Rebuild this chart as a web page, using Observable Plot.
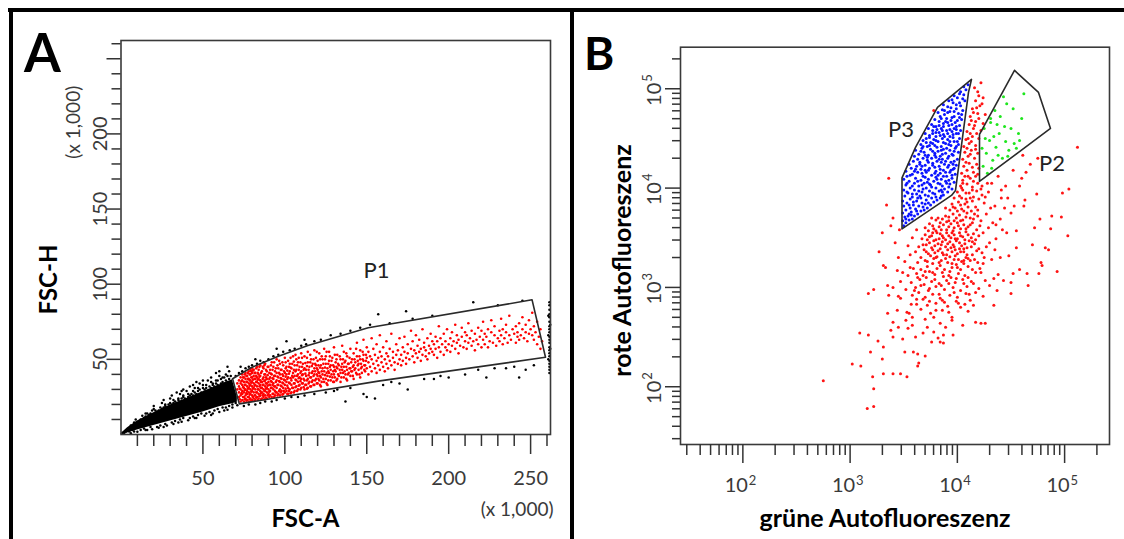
<!DOCTYPE html>
<html>
<head>
<meta charset="utf-8">
<script src="https://cdn.jsdelivr.net/npm/d3@7"></script>
<script src="https://cdn.jsdelivr.net/npm/@observablehq/plot@0.6"></script>
<style>
  html,body{margin:0;padding:0;background:#fff;}
  #fig{position:relative;width:1124px;height:539px;overflow:hidden;background:#fff;font-family:Lato,"Open Sans",sans-serif;}
  .rule{position:absolute;background:#000;}
  .panel{position:absolute;top:0;}
  .letter{position:absolute;font-family:Lato,"Open Sans",sans-serif;font-weight:700;line-height:1;color:#000;}
</style>
</head>
<body>
<div id="fig">
  <div class="panel" id="panelA" style="left:0px;"></div>
  <div class="panel" id="panelB" style="left:572px;"></div>
  <div class="rule" style="left:8px;top:7.5px;width:1116px;height:4px;"></div>
  <div class="rule" style="left:8.5px;top:7.5px;width:4px;height:532px;"></div>
  <div class="rule" style="left:570px;top:7.5px;width:4px;height:532px;"></div>
  <div class="letter" style="left:24px;top:25px;font-size:53px;">A</div>
  <div class="letter" style="left:584px;top:30px;font-size:46px;">B</div>
</div>
<script>
// ================= Panel A data (units: x 1,000) =================
const xMajorTicksA = [50, 100, 150, 200, 250];
const xMinorTicksA = [10,20,30,40,60,70,80,90,110,120,130,140,160,170,180,190,210,220,230,240,260];
const yMajorTicksA = [50, 100, 150, 200, 250];
const yLabelTicksA = [50, 100, 150, 200];
const yMinorTicksA = [10,20,30,40,60,70,80,90,110,120,130,140,160,170,180,190,210,220,230,240,260];
const axisTitleXA = "FSC-A";
const axisTitleYA = "FSC-H";
const unitLabelA = "(x 1,000)";

// gate P1 vertices (FSC-A, FSC-H)
const gateP1 = [[68.1,37.1],[79.3,44.4],[95.7,51.9],[114.1,59.2],[150.9,71.0],[250.9,89.6],[259.1,51.4],[157,35.5],[72.2,20.4]];
const gateLabelsA = [{name: "P1", x: 156, y: 109}];

// solid black core of events (band per FSC-A)
const coreX  = [0, 4, 10, 20, 30, 40, 50, 60, 68, 71];
const coreLo = [0, 1, 3, 6, 9, 12, 15, 18.5, 20.5, 21.5];
const coreHi = [0.5, 4.5, 9, 14.5, 19.5, 24, 28.5, 33, 36.5, 25];

const blackA_pairs = `
6,6 8,8 12,10 14,11 15,12 17,13 18,14 22,15 23,16 25,17 26,18 27,19 28,18 29,20 31,20 32,21 33,22 34,21 35,23 36,22
37,24 38,25 39,24 41,25 42,26 43,27 44,26 45,28 46,27 47,29 48,30 49,28 51,30 52,31 53,29 54,32 55,31 56,33 57,32 58,34
59,33 61,34 62,35 63,34 64,36 65,35 66,37 62,38 58,36 55,35 50,33 45,31 40,29 36,27 30,24 25,21 20,17 15,14 53,36 64,40
60,39 48,34 42,32 38,30 20,19 34,28 46,35 55,38 66,42 58,41
8,2 12,3 14,4 18,5 22,5 24,6 27,7 31,8 33,9 36,10 38,11 42,11 44,12 47,13 49,14 52,14 54,15 57,16 59,17 62,18 64,18 66,19
68,20 70,21 35,8 45,11 55,13 63,16 26,5 16,3
1,1 2,1 3,2 4,3 5,2 6,4 7,3 9,5 11,6 13,7
9,10 13,12.5 16,14 19,16 21,16 24,18 27,20 30,21 32,23 35,24 38,26 41,27 44,29 47,31 50,31 52,33 56,34 59,36 61,37 63,38
65,39 67,39 44,33 37,29 31,26 26,23 50,36
6,0.8 10,1.8 15,3 19,3.5 23,4.5 28,6 32,7 37,8.5 41,9.5 46,11 51,12.5 56,14 60,15 65,16.5 68,18 71,19.5
70,39 72,41 74,42 76,44 78,45 80,46 83,47 85,49 87,48 90,50 93,52 96,53 99,55 103,56 106,57 110,59 113,60 118,62 122,63
128,66 134,67 140,69 146,71 152,73 157,80 164,74 174,82 178,77 190,79 215,88 230,86 245,89 73,45 82,50 95,57 60,42 65,45
101,62 112,63
75,19 78,20 82,20 85,21 88,22 92,22 95,23 100,24 104,25 108,25 112,26 118,27 125,28 132,30 140,31 148,27 150,25 155,24
160,33 170,34 185,37 191,37 200,38 210,40 223,38 235,44 243,38 247,43 252,46 240,45 218,43 195,39 165,35 130,29 137,22
175,30 228,44
261.5,41 261.5,43 261.5,45 261.5,47 261.5,49 261.5,52 261.5,54 261.5,56 261.5,58 261.5,61 261.5,63 261.5,65 261.5,68
261.5,70 261.5,72 261.5,75 261.5,78 261.5,80 261.5,83 261.5,86 261.5,88 260.8,50 260.8,66 260.8,79 262,57 262,73`;

const redA_pairs = `
71,30 71,34 72,25 72,28 72,32 72,36 73,22 73,26 73,30 73,34 73,38 74,23 74,27 74,29 74,33 74,36 74,40 75,22 75,25 75,28
75,31 75,35 75,38 76,24 76,26 76,30 76,33 76,37 76,41 77,23 77,27 77,29 77,32 77,35 77,39 78,22 78,25 78,28 78,31 78,34
78,37 78,42 79,24 79,27 79,30 79,33 79,36 79,40 79,43 80,23 80,26 80,29 80,32 80,35 80,38 80,41 80,44
81,24 81,28 81,31 81,34 81,39 81,43 82,23 82,26 82,30 82,33 82,37 82,41 83,25 83,28 83,32 83,35 83,38 83,45 84,24 84,27
84,30 84,34 84,37 84,40 84,43 85,26 85,29 85,33 85,36 85,39 85,46 86,24 86,28 86,31 86,35 86,42 87,25 87,27 87,30 87,33
87,38 87,44 88,26 88,29 88,32 88,36 88,40 88,47 89,24 89,28 89,31 89,34 89,37 89,42 90,27 90,30 90,35 90,45
91,26 91,29 91,33 91,38 91,43 92,25 92,31 92,35 92,40 92,48 93,27 93,30 93,34 93,37 93,45 94,26 94,29 94,32 94,39 94,42
95,28 95,31 95,36 95,41 95,50 96,27 96,33 96,38 96,44 97,26 97,30 97,35 97,40 97,47 98,29 98,32 98,37 98,43 99,27 99,31
99,34 99,39 99,46 100,28 100,33 100,36 100,41 100,51
101,29 101,35 101,40 101,45 102,27 102,31 102,38 102,49 103,30 103,34 103,42 103,47 104,28 104,33 104,36 104,44 105,31
105,38 105,41 105,52 106,29 106,34 106,39 106,46 107,32 107,36 107,43 107,50 108,30 108,35 108,40 108,48 109,33 109,38
109,45 110,31 110,37 110,42 110,54
111,34 111,40 111,47 112,30 112,36 112,44 112,52 113,33 113,39 113,43 114,31 114,37 114,48 114,55 115,35 115,41 115,45
116,32 116,38 116,50 117,36 117,42 117,47 118,33 118,40 118,44 118,56 119,37 119,46 119,51 120,34 120,39 120,43 120,49
121,36 121,41 121,54 122,32 122,38 122,46 123,40 123,44 123,50 124,35 124,42 124,57 125,37 125,47 125,52 126,33 126,39
126,44 127,41 127,49 127,55 128,36 128,43 128,46 129,38 129,51 130,35 130,40 130,45 130,58
131,42 131,48 132,37 132,44 132,53 133,39 133,46 134,35 134,41 134,50 135,43 135,47 135,59 136,38 136,45 136,55 137,40
137,49 138,36 138,43 138,52 139,41 139,47 140,39 140,44 140,57
141,42 141,50 142,37 142,46 142,54 143,44 143,48 144,40 144,52 144,61 145,43 145,47 146,38 146,50 146,56 147,45 147,41
148,49 148,53 148,63 149,42 149,46 150,44 150,51 150,58
151,40 151,48 151,55 152,45 152,52 153,42 153,50 153,64 154,47 154,57 155,44 155,53 156,41 156,49 156,60 157,46 157,51
158,43 158,55 158,66 159,48 159,52 160,45 160,58
161,50 161,42 162,47 162,54 162,62 163,44 163,52 164,49 164,57 165,46 165,67 166,51 166,55 167,43 167,48 168,53 168,60
169,47 169,56 170,50 170,64
171,46 171,53 172,58 172,49 173,55 173,65 174,51 174,47 175,60 175,54 176,50 177,57 177,69 178,52 178,62 179,48 179,56
180,54 180,66
181,51 181,59 182,55 182,63 183,49 183,57 184,53 184,70 185,58 185,61 186,52 186,56 187,64 187,50 188,59 188,54 189,67
189,57 190,55 190,62
191,53 191,60 192,57 192,65 193,51 193,62 194,58 194,72 195,55 195,64 196,60 197,53 197,67 198,58 198,62 199,56 199,70 200,60
201,55 201,64 202,59 202,68 203,62 204,57 204,73 205,61 205,66 206,54 206,63 207,59 208,65 208,71 209,58 210,62 210,68
211,57 211,66 212,61 212,74 213,64 214,59 214,69 215,62 216,56 216,67 217,63 218,71 218,60 219,65 220,58 220,69
221,63 221,75 222,60 222,67 223,65 224,70 224,58 225,62 226,68 226,76 227,61 228,66 228,72 229,59 230,64
231,69 231,62 232,66 232,77 233,60 233,70 234,64 235,68 235,73 236,61 237,66 237,79 238,63 239,70 240,67
241,61 241,72 242,65 242,68 243,74 243,63 244,66 245,70 245,78 246,64 247,68 247,73 248,62 249,67 249,76 250,70
251,66 251,81 252,63 252,72 253,68 254,75 254,60 255,65 256,70 256,57 257,62
72.5,23.5 72.5,30.5 73.5,27.5 73.5,35.5 74.5,25 74.5,31.5 74.5,38 75.5,23.5 75.5,29.5 75.5,33 75.5,40 76.5,22.5 76.5,27.5
76.5,35 76.5,39 77.5,25 77.5,30.5 77.5,37 77.5,41 78.5,23.5 78.5,26.5 78.5,32.5 78.5,36 78.5,40 79.5,22.5 79.5,28.5
79.5,34.5 79.5,38 79.5,42 80.5,25 80.5,30.5 80.5,36.5 80.5,42.5 81.5,22.5 81.5,26 81.5,32.5 81.5,37 81.5,41 82.5,24.5
82.5,28 82.5,35 82.5,39 82.5,44 83.5,23 83.5,30 83.5,36.5 83.5,41 84.5,25.5 84.5,32 84.5,38.5 84.5,45 85.5,23.5 85.5,27.5
85.5,31 85.5,35 85.5,41 86.5,26 86.5,33 86.5,37 86.5,45 87.5,23.5 87.5,29 87.5,35.5 87.5,40 87.5,46 88.5,24.5 88.5,30.5
88.5,34 88.5,38 88.5,43 89.5,26 89.5,32.5 89.5,39.5 89.5,45 90.5,25 90.5,28.5 90.5,33 90.5,37 90.5,41 91.5,31 91.5,35.5
91.5,40.5 91.5,46 92.5,27 92.5,33 92.5,37.5 92.5,43 93.5,25 93.5,32 93.5,39 93.5,48 94.5,28 94.5,35 94.5,44 95.5,26
95.5,33 95.5,38.5 95.5,46 96.5,29 96.5,35.5 96.5,41 96.5,49 97.5,28 97.5,32.5 97.5,37.5 97.5,43 98.5,26.5 98.5,34.5 98.5,40
98.5,48 99.5,29 99.5,36.5 99.5,42 100.5,30.5 100.5,38.5 100.5,44 100.5,48 101.5,27 101.5,32.5 101.5,37 101.5,42.5 102.5,29
102.5,34.5 102.5,40.5 102.5,45 103.5,27.5 103.5,37.5 103.5,44.5 103.5,51 104.5,31 104.5,39 104.5,47 105.5,28 105.5,34
105.5,43 105.5,48.5 106.5,31.5 106.5,36.5 106.5,42 106.5,53 107.5,29 107.5,39 107.5,46 108.5,32.5 108.5,37.5 108.5,43
108.5,51 109.5,30 109.5,35.5 109.5,41 109.5,48 110.5,34 110.5,39.5 110.5,45 110.5,51 111.5,31.5 111.5,37 111.5,43 112.5,33
112.5,40.5 112.5,47.5 113.5,30.5 113.5,36 113.5,45.5 113.5,51 114.5,34 114.5,39.5 114.5,43 115.5,32 115.5,38 115.5,48
115.5,53 116.5,35 116.5,41 116.5,45.5 117.5,33 117.5,39 117.5,50 118.5,36 118.5,42 118.5,47 119.5,34 119.5,40 119.5,44
119.5,55 120.5,37 120.5,41.5 120.5,46 121.5,33 121.5,39 121.5,44.5 121.5,50 122.5,35 122.5,42 122.5,52 123.5,37 123.5,47
124.5,39.5 124.5,44.5 124.5,50 125.5,34 125.5,41 125.5,55 126.5,36 126.5,42 126.5,47 127.5,38.5 127.5,45 127.5,52 128.5,40
128.5,49 129.5,35 129.5,42 129.5,46 130.5,38 130.5,43 130.5,53 131.5,36 131.5,45 131.5,50 132.5,40 132.5,47 133.5,43
133.5,52 134.5,38 134.5,45 135.5,41 135.5,50 136.5,42 136.5,48 137.5,37 137.5,45 137.5,54 138.5,40 138.5,47 139.5,44
139.5,51 140.5,42 140.5,48 141.5,39 141.5,45 142.5,43 142.5,50 143.5,41 143.5,57 144.5,46 144.5,49 145.5,40 145.5,52
146.5,44 146.5,47 147.5,50 147.5,55 148.5,43 148.5,46 149.5,49 149.5,53`;

// ================= Panel B data (log10 of intensity) =================
const xMajorTicksB = [100, 1000, 10000, 100000];
const expLabelsB = ["2", "3", "4", "5"];
const xMinorTicksB = [30,40,50,60,70,80,90,200,300,400,500,600,700,800,900,2000,3000,4000,5000,6000,7000,8000,9000,
  20000,30000,40000,50000,60000,70000,80000,90000,200000];
const axisTitleXB = "grüne Autofluoreszenz";
const axisTitleYB = "rote Autofluoreszenz";

const gateP3 = [[3047,3879],[3047,12660],[4072,25670],[6527,64900],[13550,124200],[12700,91900],[9608,9472],[8817,8437]];
const gateP2 = [[34100,153000],[57080,91900],[73860,39890],[16085,11670],[16085,34700]];
const gateLabelsB = [{name: "P3", x: 2981, y: 38150}, {name: "P2", x: 76270, y: 17550}];

const redB_log10 = `
2.75,2.06 3.02,2.23 3.10,2.21 3.09,2.54 3.17,2.52 3.19,2.35 3.21,2.10 3.22,1.98 3.16,1.78 3.22,1.80 3.26,2.46 3.30,2.28
3.31,2.40 3.31,2.13 3.40,2.13 3.47,2.13 3.53,2.10 3.38,2.57 3.40,2.50 3.49,2.48 3.40,2.65 3.52,2.67 3.54,2.59 3.59,2.35
3.63,2.33 3.70,2.31 3.64,2.24 3.63,2.21 3.55,2.74 3.58,2.70 3.68,2.54 3.72,2.60 3.78,2.55 3.82,2.49 3.84,2.45 3.87,2.52
3.89,2.60 3.95,2.67 3.96,2.52 4.05,2.62 4.17,2.65 4.22,2.64 4.26,2.64 3.87,2.44 3.35,3.02 3.36,2.92 3.35,2.74 3.17,2.94
3.22,2.98 3.31,3.22 3.44,3.17 3.47,2.89 3.53,2.75 3.72,2.82 3.75,2.74 3.78,2.70 3.86,2.77 3.95,2.70 4.03,2.80 4.08,2.94
4.12,2.87 4.15,2.82 4.34,2.82 4.37,2.97 4.50,2.94 4.50,3.05 4.52,3.14 4.65,3.14 4.76,3.14 4.79,3.22 4.17,2.95 4.15,3.04
4.22,3.15 4.34,3.09 4.43,3.07 4.24,3.24
3.62,2.83 3.80,2.84 3.91,2.81 3.99,2.86 4.07,2.83 3.68,2.88 3.86,2.87
3.45,2.91 3.58,2.92 3.70,2.90 3.77,2.93 3.84,2.89 3.93,2.92 4.00,2.90 4.11,2.93 4.24,2.91 3.64,2.95
3.52,2.98 3.61,3.00 3.73,2.97 3.80,3.01 3.88,2.98 3.96,3.00 4.03,2.97 4.09,3.01 4.20,2.99 4.30,3.02 3.40,3.00 3.69,3.03
3.47,3.06 3.57,3.05 3.65,3.08 3.76,3.06 3.83,3.04 3.90,3.07 3.98,3.05 4.05,3.08 4.13,3.06 4.26,3.07 3.71,3.10 3.94,3.10
3.54,3.12 3.62,3.14 3.68,3.12 3.79,3.13 3.86,3.15 3.92,3.12 4.01,3.14 4.07,3.12 4.17,3.15 4.38,3.13 3.49,3.15 3.74,3.16
3.59,3.19 3.66,3.18 3.72,3.21 3.81,3.19 3.88,3.18 3.95,3.20 4.03,3.18 4.10,3.21 4.21,3.19 4.58,3.18 3.84,3.22 3.99,3.23 4.06,3.24
3.51,3.26 3.63,3.25 3.70,3.27 3.77,3.24 3.85,3.27 3.91,3.25 3.97,3.28 4.04,3.26 4.12,3.27 4.19,3.25 4.32,3.28 3.80,3.30
3.93,3.31 4.08,3.30 3.66,3.30
3.56,3.33 3.61,3.36 3.73,3.34 3.79,3.35 3.87,3.33 3.95,3.36 4.00,3.34 4.06,3.36 4.14,3.33 4.23,3.35 4.48,3.32 3.69,3.38
3.84,3.39 3.91,3.38 4.02,3.39
3.54,3.42 3.64,3.41 3.71,3.43 3.76,3.40 3.82,3.44 3.89,3.41 3.96,3.43 4.04,3.42 4.09,3.40 4.16,3.44 4.27,3.41 4.70,3.43
3.86,3.46 3.99,3.47 4.11,3.47 3.93,3.46
3.58,3.50 3.67,3.49 3.74,3.51 3.80,3.48 3.87,3.50 3.92,3.52 3.98,3.49 4.05,3.51 4.13,3.50 4.20,3.52 4.36,3.49 3.84,3.54
3.95,3.55 4.02,3.55 4.08,3.56 3.77,3.55
3.62,3.58 3.70,3.60 3.78,3.59 3.83,3.61 3.90,3.58 3.97,3.60 4.03,3.59 4.10,3.61 4.18,3.58 4.29,3.60 4.55,3.57 3.87,3.63
3.94,3.64 4.00,3.65 4.06,3.63 4.14,3.65 3.74,3.64
3.80,3.68 3.86,3.69 3.92,3.67 3.99,3.70 4.05,3.68 4.12,3.70 4.22,3.67 4.40,3.69 3.89,3.72 3.96,3.74 4.02,3.73 4.09,3.75
4.16,3.74 3.76,3.70
3.93,3.78 3.98,3.80 4.04,3.79 4.10,3.81 4.19,3.78 4.31,3.80 3.95,3.84 4.01,3.86 4.07,3.84 4.14,3.87 4.25,3.85 4.62,3.82 3.89,3.80
3.97,3.90 4.02,3.92 4.08,3.89 4.15,3.91 4.23,3.93 4.41,3.90 4.00,3.96 4.05,3.98 4.11,3.95 4.18,3.97 4.29,3.96 4.74,3.94
3.36,4.10 3.34,3.83 3.40,3.70 3.30,3.55 3.42,3.45 3.38,3.62 3.27,3.36 3.45,3.30 3.33,3.20 3.46,3.58
4.03,4.02 4.09,4.04 4.14,4.01 4.19,4.05 4.05,4.08 4.12,4.10 4.17,4.12 4.04,4.15 4.09,4.18 4.15,4.16 4.20,4.20 4.06,4.22
4.11,4.25 4.18,4.24 4.05,4.29 4.10,4.32 4.16,4.30 4.07,4.36 4.13,4.38 4.19,4.35 4.06,4.42 4.11,4.45 4.17,4.43 4.08,4.49
4.14,4.52 4.20,4.50 4.09,4.57 4.15,4.60 4.22,4.58 4.11,4.64 4.17,4.67 4.24,4.65 4.12,4.72 4.19,4.75 4.26,4.74 4.14,4.80
4.21,4.83 4.17,4.88 4.24,4.91 4.19,4.97 4.22,5.06 4.16,5.01 3.78,4.78
4.32,4.05 4.38,4.12 4.45,4.02 4.52,4.18 4.41,3.98 4.60,4.10 4.68,4.24 4.75,4.30 5.12,4.41 4.98,3.95 4.88,3.72 4.72,3.60
4.50,3.75 4.63,3.88 4.36,3.63 4.46,3.55 4.85,3.38 5.03,3.52 4.78,3.25 4.55,3.40 4.93,3.16 4.66,3.02 4.40,3.30 4.35,3.82
4.28,4.05 4.47,3.90 5.04,3.99 4.97,3.71 4.77,3.69 4.87,3.59 4.82,3.40 4.53,3.82 4.58,4.02 4.64,4.16 4.61,4.33
3.72,3.26 3.78,3.29 3.83,3.25 3.89,3.29 3.95,3.24 4.01,3.28 4.06,3.27 4.10,3.29 4.16,3.28 3.75,3.32 3.81,3.31 3.86,3.35
3.90,3.33 3.98,3.32 4.03,3.36 4.09,3.33 4.18,3.37 3.71,3.36 3.77,3.38 3.82,3.37 3.94,3.40 3.98,3.38 4.06,3.39 4.13,3.41
4.20,3.39 3.68,3.43 3.74,3.45 3.79,3.42 3.85,3.43 3.91,3.44 3.97,3.41 4.02,3.45 4.07,3.44 4.14,3.46 3.72,3.48 3.78,3.47
3.83,3.49 3.89,3.48 3.94,3.50 4.00,3.49 4.07,3.48 4.10,3.53 4.17,3.48 3.70,3.53 3.76,3.52 3.81,3.55 3.86,3.52 3.90,3.55
3.97,3.53 4.03,3.52 4.15,3.54 3.73,3.57 3.80,3.57 3.85,3.58 3.92,3.61 3.96,3.57 4.01,3.62 4.08,3.59 4.12,3.63 4.21,3.62
3.77,3.62 3.84,3.65 3.90,3.66 3.97,3.67 4.03,3.67 4.08,3.71 4.15,3.69 4.19,3.72 3.82,3.70 3.92,3.71 4.00,3.77 4.06,3.77
4.13,3.77 4.17,3.81 3.96,3.81 4.03,3.83 4.09,3.86 4.12,3.90 4.20,3.89 4.04,3.90 4.08,3.95 4.14,3.98 4.22,3.99 4.26,3.91
4.27,3.74 4.24,3.55 4.30,3.45 4.33,3.65 4.25,3.30 4.35,3.38 4.42,3.58 4.44,3.80
3.60,2.97 3.66,3.02 3.74,2.99 3.79,3.08 3.85,3.02 3.92,3.04 3.99,3.09 4.06,3.04 4.10,3.10 3.63,3.10 3.70,3.16 3.77,3.15
3.87,3.11 3.93,3.16 4.00,3.20 4.14,3.18 3.56,3.20 3.62,2.88 3.74,2.86 3.83,2.93 3.97,2.95 4.01,2.84 3.88,2.85 3.66,2.78
3.80,2.77 3.92,2.75 4.10,2.76 3.58,2.62 3.70,2.68 3.84,2.64 3.76,2.45 3.61,2.50 3.51,2.35 3.45,2.60 3.44,2.77 3.57,2.83
4.05,4.05 4.10,4.12 4.15,4.07 4.08,4.26 4.14,4.21 4.12,4.34 4.17,4.39 4.09,4.40 4.13,4.47 4.18,4.55 4.12,4.55 4.16,4.63
4.20,4.70 4.15,4.76 4.18,4.81 4.20,4.93 4.23,4.85 4.13,4.68 4.10,4.50 4.19,4.14 4.23,4.02 4.07,4.12 4.04,4.00`;

const blueB_log10 = `
3.50,3.62 3.52,3.65 3.49,3.67 3.55,3.68 3.58,3.69 3.51,3.71
3.54,3.72 3.60,3.72 3.63,3.74 3.49,3.75 3.57,3.76 3.66,3.77 3.52,3.78 3.61,3.79 3.69,3.78 3.72,3.80 3.56,3.80
3.50,3.82 3.59,3.83 3.64,3.82 3.75,3.83 3.53,3.85 3.67,3.85 3.78,3.86 3.49,3.87 3.62,3.87 3.71,3.88 3.81,3.88 3.56,3.89
3.84,3.90 3.66,3.90 3.76,3.90
3.51,3.92 3.58,3.91 3.70,3.93 3.87,3.93 3.62,3.94 3.79,3.94 3.54,3.95 3.91,3.96 3.67,3.96 3.74,3.97 3.83,3.97 3.50,3.98
3.60,3.98 3.88,3.99 3.95,3.99 3.71,4.00 3.56,4.00 3.80,4.00
3.64,4.02 3.86,4.02 3.52,4.03 3.75,4.03 3.93,4.04 3.60,4.05 3.69,4.05 3.82,4.05 3.97,4.06 3.55,4.07 3.78,4.07 3.89,4.07
3.66,4.08 3.50,4.09 3.73,4.09 3.85,4.09 3.95,4.10 3.61,4.10 3.80,4.11
3.53,4.12 3.68,4.12 3.90,4.12 3.76,4.13 3.98,4.14 3.58,4.14 3.84,4.15 3.63,4.16 3.71,4.16 3.93,4.16 3.52,4.17 3.80,4.17
3.87,4.18 3.66,4.19 3.96,4.19 3.74,4.20 3.57,4.20 3.91,4.21
3.62,4.22 3.83,4.22 3.70,4.23 3.99,4.23 3.55,4.24 3.88,4.24 3.77,4.25 3.65,4.26 3.94,4.26 3.59,4.27 3.81,4.27 3.72,4.28
3.86,4.29 4.00,4.29 3.68,4.30 3.91,4.30 3.76,4.30
3.60,4.32 3.84,4.32 3.73,4.33 3.96,4.33 3.64,4.34 3.89,4.35 3.79,4.35 3.69,4.36 4.01,4.36 3.82,4.37 3.93,4.38 3.61,4.38
3.75,4.39 3.87,4.39 3.98,4.40 3.67,4.40
3.72,4.42 3.85,4.42 3.79,4.43 3.94,4.43 3.66,4.44 4.01,4.44 3.89,4.45 3.75,4.46 3.82,4.47 3.97,4.47 3.68,4.48 3.91,4.49
3.78,4.49 3.86,4.50 4.02,4.50 3.71,4.50
3.80,4.52 3.93,4.52 3.74,4.53 3.87,4.54 3.99,4.55 3.70,4.55 3.83,4.56 3.95,4.57 3.77,4.58 3.90,4.58 4.03,4.58 3.73,4.60
3.85,4.60 3.97,4.60
3.80,4.62 3.92,4.63 4.02,4.63 3.76,4.64 3.87,4.65 3.98,4.66 3.83,4.67 3.94,4.68 3.79,4.69 3.90,4.70 4.04,4.69
3.84,4.72 3.97,4.72 3.88,4.74 4.01,4.75 3.82,4.76 3.93,4.77 3.86,4.79 4.05,4.78 3.99,4.80
3.91,4.82 3.87,4.84 4.03,4.83 3.96,4.86 4.07,4.88 3.92,4.88 4.00,4.91 3.97,4.93 4.06,4.94
4.03,4.97 4.08,4.99 4.06,5.02 4.10,5.04
3.57,3.73 3.68,3.81 3.73,3.85 3.59,3.86 3.85,3.92 3.65,3.92 3.77,3.95 3.53,3.96 3.86,3.96 3.68,3.99 3.92,4.01 3.76,4.01
3.58,4.02 3.84,4.04 3.72,4.06 3.63,4.07 3.92,4.08 3.81,4.09 3.70,4.11 3.87,4.12 3.56,4.13 3.95,4.13 3.79,4.15 3.67,4.15
3.89,4.16 3.73,4.18 3.84,4.19 3.61,4.19 3.97,4.20 3.79,4.21 3.67,4.22 3.92,4.23 3.85,4.26 3.73,4.26 3.97,4.27 3.63,4.29
3.80,4.31 3.92,4.32 3.70,4.33 3.86,4.34 3.77,4.37 3.97,4.37 3.66,4.37 3.90,4.40 3.81,4.41 3.74,4.43 3.99,4.42 3.87,4.46
3.93,4.47 3.80,4.48 3.71,4.46 3.96,4.51 3.84,4.53 3.77,4.55 3.91,4.55 4.01,4.55 3.81,4.59 3.93,4.59 3.87,4.62 3.99,4.62
3.78,4.62 3.91,4.66 4.00,4.68 3.85,4.70 3.95,4.71 3.91,4.76 3.97,4.77 4.04,4.74 3.94,4.81 4.02,4.86
3.52,3.69 3.55,3.74 3.62,3.77 3.70,3.84 3.55,3.83 3.80,3.91 3.63,3.90 3.73,3.92 3.58,3.94 3.85,3.98 3.64,3.97 3.74,4.04
3.90,4.05 3.53,4.05 3.67,4.03 3.82,4.13 3.94,4.18 3.60,4.17 3.70,4.18 3.77,4.23 3.89,4.27 3.96,4.24 3.65,4.24 3.83,4.29
3.72,4.31 3.95,4.34 3.79,4.33 3.68,4.42 3.85,4.38 3.92,4.44 3.77,4.45 4.00,4.47 3.74,4.51 3.88,4.52 3.96,4.54 3.80,4.56
3.86,4.58 3.99,4.59 3.83,4.63 3.95,4.64 3.89,4.67 4.02,4.71 3.88,4.78 3.99,4.84 4.05,4.90 3.95,4.89 4.02,4.95`;

const greenB_log10 = `
4.24,4.22 4.27,4.35 4.30,4.48 4.25,4.60 4.33,4.28 4.36,4.41 4.39,4.55 4.31,4.66 4.42,4.30 4.45,4.47 4.48,4.38 4.40,4.72
4.50,4.60 4.35,4.78 4.53,4.45 4.57,4.55 4.46,4.85 4.60,4.70 4.28,4.15 4.23,4.40 4.34,4.52 4.44,4.62 4.52,4.80 4.62,4.95
4.26,4.50 4.38,4.33 4.47,4.32 4.55,4.40 4.32,4.20 4.31,4.70 4.43,4.92 4.58,4.48 4.37,4.64`;

// ================= helpers =================
const pairs = s => s.trim().split(/\s+/).map(p => p.split(",").map(Number));
const FONT = "Lato, 'Open Sans', sans-serif";
const tickCol = "#333";
const labCol = "#3a3a3a";

// ================= Panel A =================
const coreA = coreX.map((x, i) => ({x, lo: coreLo[i], hi: coreHi[i]}));
const blackA = pairs(blackA_pairs);
const redA = pairs(redA_pairs);

const plotA = Plot.plot({
  width: 572, height: 539,
  marginLeft: 120.5, marginRight: 22, marginTop: 40, marginBottom: 105,
  style: {background: "none", fontFamily: FONT, overflow: "visible"},
  x: {domain: [0, 262.144]},
  y: {domain: [0, 262.144]},
  marks: [
    Plot.areaY(coreA, {x: "x", y1: "lo", y2: "hi", fill: "#000"}),
    Plot.dot(blackA, {x: d => d[0], y: d => d[1], r: 1.25, fill: "#000", stroke: "none"}),
    Plot.dot(redA, {x: d => d[0], y: d => d[1], r: 1.3, fill: "#ff0000", stroke: "none"}),
    Plot.line([...gateP1, gateP1[0]], {x: d => d[0], y: d => d[1], stroke: "#2a2a2a", strokeWidth: 1.6}),
    Plot.frame({stroke: "#3a3a3a", strokeWidth: 1.6}),
    Plot.axisX(xMinorTicksA, {tickSize: 12, fill: "none", stroke: tickCol, strokeWidth: 1.5, label: null}),
    Plot.axisX(xMajorTicksA, {tickSize: 20, fill: "none", stroke: tickCol, strokeWidth: 1.5, label: null}),
    Plot.axisY(yMinorTicksA, {tickSize: 9, fill: "none", stroke: tickCol, strokeWidth: 1.5, label: null}),
    Plot.axisY(yMajorTicksA, {tickSize: 14, fill: "none", stroke: tickCol, strokeWidth: 1.5, label: null}),
    Plot.text(xMajorTicksA, {x: d => d, frameAnchor: "bottom", dy: 36, lineAnchor: "top", text: d => String(d), fontSize: 20, fill: labCol}),
    Plot.text(yLabelTicksA, {y: d => d, frameAnchor: "left", dx: -20.7, rotate: -90, lineAnchor: "middle", textAnchor: "middle", text: d => String(d), fontSize: 20, fill: labCol}),
    Plot.text([axisTitleXA], {text: d => d, frameAnchor: "bottom", dx: -30.25, dy: 85.3, lineAnchor: "middle", fontWeight: "bold", fontSize: 24, fill: "#000"}),
    Plot.text([axisTitleYA], {text: d => d, frameAnchor: "left", dx: -71.7, dy: 42, rotate: -90, lineAnchor: "middle", textAnchor: "middle", fontWeight: "bold", fontSize: 24, fill: "#000"}),
    Plot.text([unitLabelA], {text: d => d, frameAnchor: "bottom-right", dx: 3, dy: 75, lineAnchor: "middle", textAnchor: "end", fontSize: 19, fill: labCol}),
    Plot.text([unitLabelA], {text: d => d, frameAnchor: "top-left", dx: -47.5, dy: 81.7, rotate: -90, lineAnchor: "middle", textAnchor: "middle", fontSize: 19, fill: labCol}),
    Plot.text(gateLabelsA, {x: "x", y: "y", text: "name", fontSize: 22, fill: "#222"})
  ]
});
document.getElementById("panelA").appendChild(plotA);

// ================= Panel B =================
const redB = pairs(redB_log10);
const blueB = pairs(blueB_log10);
const greenB = pairs(greenB_log10);
const labelsB = xMajorTicksB.map((v, i) => ({v, base: "10", exp: expLabelsB[i]}));
const px = d => 10 ** d[0], py = d => 10 ** d[1];

const plotB = Plot.plot({
  width: 552, height: 539,
  marginLeft: 108, marginRight: 15, marginTop: 46.7, marginBottom: 95,
  style: {background: "none", fontFamily: FONT, overflow: "visible"},
  x: {type: "log", domain: [26.2144, 262144]},
  y: {type: "log", domain: [26.2144, 262144]},
  marks: [
    Plot.dot(redB, {x: px, y: py, r: 1.5, fill: "#ff1414", stroke: "none"}),
    Plot.dot(blueB, {x: px, y: py, r: 1.5, fill: "#0a14ff", stroke: "none"}),
    Plot.dot(greenB, {x: px, y: py, r: 1.5, fill: "#1ee61e", stroke: "none"}),
    Plot.line([...gateP3, gateP3[0]], {x: d => d[0], y: d => d[1], stroke: "#2a2a2a", strokeWidth: 1.6}),
    Plot.line([...gateP2, gateP2[0]], {x: d => d[0], y: d => d[1], stroke: "#2a2a2a", strokeWidth: 1.6}),
    Plot.frame({stroke: "#3a3a3a", strokeWidth: 1.6}),
    Plot.axisX(xMinorTicksB, {tickSize: 11, fill: "none", stroke: tickCol, strokeWidth: 1.5, label: null}),
    Plot.axisX(xMajorTicksB, {tickSize: 19, fill: "none", stroke: tickCol, strokeWidth: 1.5, label: null}),
    Plot.axisY(xMinorTicksB, {tickSize: 8, fill: "none", stroke: tickCol, strokeWidth: 1.5, label: null}),
    Plot.axisY(xMajorTicksB, {tickSize: 15, fill: "none", stroke: tickCol, strokeWidth: 1.5, label: null}),
    Plot.text(labelsB, {x: "v", frameAnchor: "bottom", text: "base", textAnchor: "end", dx: 5, dy: 33, lineAnchor: "top", fontSize: 20, fill: labCol}),
    Plot.text(labelsB, {x: "v", frameAnchor: "bottom", text: "exp", textAnchor: "start", dx: 6, dy: 31, lineAnchor: "top", fontSize: 13, fill: labCol}),
    Plot.text(labelsB, {y: "v", frameAnchor: "left", text: "base", rotate: -90, textAnchor: "end", lineAnchor: "middle", dx: -25.7, dy: -6, fontSize: 20, fill: labCol}),
    Plot.text(labelsB, {y: "v", frameAnchor: "left", text: "exp", rotate: -90, textAnchor: "start", lineAnchor: "middle", dx: -33, dy: -7, fontSize: 13, fill: labCol}),
    Plot.text([axisTitleXB], {text: d => d, frameAnchor: "bottom", dx: -10, dy: 74, lineAnchor: "middle", fontWeight: "bold", fontSize: 25, fill: "#000"}),
    Plot.text([axisTitleYB], {text: d => d, frameAnchor: "left", dx: -58, dy: 14.65, rotate: -90, lineAnchor: "middle", textAnchor: "middle", fontWeight: "bold", fontSize: 25, fill: "#000"}),
    Plot.text(gateLabelsB, {x: "x", y: "y", text: "name", fontSize: 22, fill: "#222"})
  ]
});
document.getElementById("panelB").appendChild(plotB);
</script>
</body>
</html>
